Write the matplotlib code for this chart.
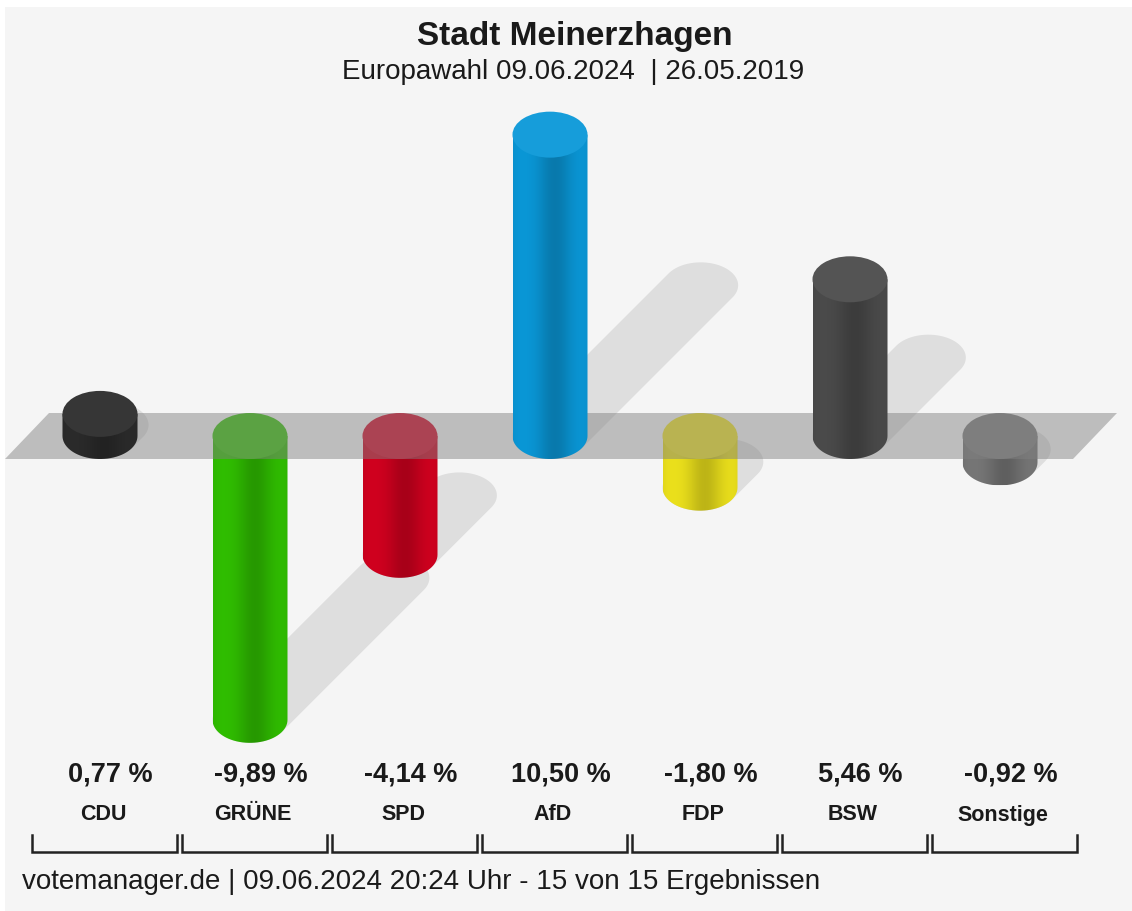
"""Europawahl 2024, Stadt Meinerzhagen: Gewinne/Verluste als 3D-Zylinder."""
import numpy as np
import matplotlib
matplotlib.use("Agg")
import matplotlib.pyplot as plt
from matplotlib.patches import Ellipse, Polygon, PathPatch, Rectangle
from matplotlib.path import Path
from matplotlib.colors import to_rgb

plt.rcParams["font.family"] = ["Liberation Sans", "DejaVu Sans"]

# data
parties = ["CDU", "GRÜNE", "SPD", "AfD", "FDP", "BSW", "Sonstige"]
changes = [0.77, -9.89, -4.14, 10.50, -1.80, 5.46, -0.92]
colors = ["#2b2b2b", "#30bf00", "#d2001f", "#0a98d8", "#ede21c", "#4b4b4b", "#777777"]

title = "Stadt Meinerzhagen"
subtitle = "Europawahl 09.06.2024  | 26.05.2019"
footer = "votemanager.de | 09.06.2024 20:24 Uhr - 15 von 15 Ergebnissen"

# layout (pixels)
W, H = 1132, 911
PX = 150.0   # px per party slot
PY = 28.7    # px per percentage point
X0, Y0 = 100, 436
BG = "#f5f5f5"

fig = plt.figure(figsize=(W / 100, H / 100), dpi=100, facecolor=BG)
ax = fig.add_axes([0, 0, 1, 1])
ax.set_facecolor(BG)
ax.axis("off")

rx = 37.5 / PX
ry = 23.0 / PY


def hull(pts):
    pts = sorted(map(tuple, pts))

    def cross(o, a, b):
        return (a[0] - o[0]) * (b[1] - o[1]) - (a[1] - o[1]) * (b[0] - o[0])

    lower, upper = [], []
    for p in pts:
        while len(lower) >= 2 and cross(lower[-2], lower[-1], p) <= 0:
            lower.pop()
        lower.append(p)
    for p in reversed(pts):
        while len(upper) >= 2 and cross(upper[-2], upper[-1], p) <= 0:
            upper.pop()
        upper.append(p)
    return np.array(lower[:-1] + upper[:-1])


def shade(c, f):
    r = np.array(to_rgb(c))
    return tuple(np.clip(r * f if f < 1 else r + (1 - r) * (f - 1), 0, 1))


t = np.linspace(0, 2 * np.pi, 72)

# shadows (thrown up and to the right)
for i, v in enumerate(changes):
    base = 0 if v > 0 else v
    d = 0.5 * abs(v)
    e1 = np.c_[i + rx * np.cos(t), base + ry * np.sin(t)]
    e2 = e1 + [d * PY / PX, d]
    ax.add_patch(Polygon(hull(np.vstack([e1, e2])), closed=True,
                         fc="black", ec="none", alpha=0.09, zorder=1))

# grey floor band at zero
slant = 44 / PX
bl, br = (5 - X0) / PX, (1073 - X0) / PX
ax.add_patch(Polygon([(bl, -ry), (br, -ry), (br + slant, ry), (bl + slant, ry)],
                     closed=True, fc="#808080", ec="none", alpha=0.48, zorder=3))

# cylinders
u = np.linspace(-1, 1, 200)
prof = 1 - 0.2 * np.exp(-((u - 0.12) / 0.45) ** 2) - 0.05 * u ** 8
for i, (v, c) in enumerate(zip(changes, colors)):
    z = 4 if v > 0 else 2
    top, bot = max(v, 0), min(v, 0)
    th = np.linspace(np.pi, 2 * np.pi, 40)
    arc = np.c_[i + rx * np.cos(th), bot + ry * np.sin(th)]
    verts = [(i - rx, top)] + arc.tolist() + [(i + rx, top), (i - rx, top)]
    clip = PathPatch(Path(verts, closed=True), fc="none", ec="none",
                     transform=ax.transData)
    img = np.array(to_rgb(c))[None, None, :] * prof[None, :, None]
    im = ax.imshow(np.clip(img, 0, 1), extent=[i - rx, i + rx, bot - ry, top],
                   aspect="auto", interpolation="bicubic", zorder=z)
    im.set_clip_path(clip)
    ax.add_patch(Ellipse((i, top), 2 * rx, 2 * ry, fc=shade(c, 1.05),
                         ec="none", zorder=z + 0.1))

# labels under the chart
xt = ax.get_xaxis_transform()
for i, (p, v) in enumerate(zip(parties, changes)):
    lab = f"{v:.2f}".replace(".", ",") + " %"
    ax.text(i + 0.07, 1 - 774 / H, lab, transform=xt, ha="center", va="center",
            fontsize=19.5, fontweight="bold", color="#1a1a1a")
    ax.text(i + 0.02, 1 - 815 / H, p, transform=xt, ha="center", va="center",
            fontsize=15.5, fontweight="bold", color="#1a1a1a")
    xl, xr = i + (32 - X0) / PX, i + (177 - X0) / PX
    yb, yt = 1 - 852 / H, 1 - 835 / H
    ax.plot([xl, xl, xr, xr], [yt, yb, yb, yt], transform=xt,
            color="#222222", lw=1.8, solid_joinstyle="miter", zorder=5)

ax.set_xlim(-X0 / PX, (W - X0) / PX)
ax.set_ylim((Y0 - H) / PY, Y0 / PY)

fig.text(575 / W, 1 - 36 / H, title, ha="center", va="center",
         fontsize=24, fontweight="bold", color="#1a1a1a")
fig.text(573 / W, 1 - 72 / H, subtitle, ha="center", va="center",
         fontsize=20, color="#1a1a1a")
fig.text(22 / W, 1 - 882 / H, footer, ha="left", va="center",
         fontsize=20, color="#1a1a1a")

# thin white frame at top and left
fig.patches.append(Rectangle((0, 1 - 7 / H), 1, 7 / H, transform=fig.transFigure,
                             fc="white", ec="none", zorder=10))
fig.patches.append(Rectangle((0, 0), 5 / W, 1, transform=fig.transFigure,
                             fc="white", ec="none", zorder=10))

fig.savefig("out.png", dpi=100, facecolor=BG)
